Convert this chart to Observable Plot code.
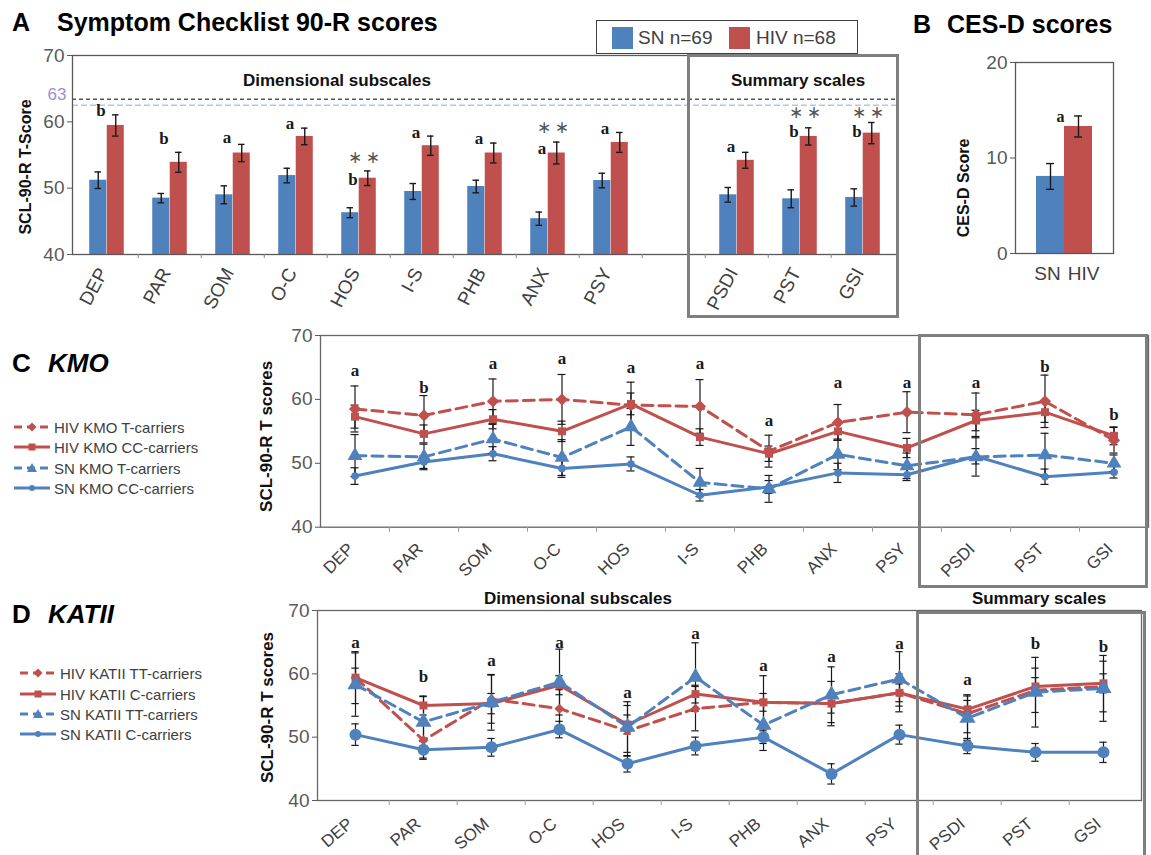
<!DOCTYPE html>
<html><head><meta charset="utf-8">
<script src="https://cdn.jsdelivr.net/npm/d3@7"></script>
<script src="https://cdn.jsdelivr.net/npm/@observablehq/plot@0.6"></script>
<style>
body{margin:0;background:#fff;}
#wrap{position:relative;width:1151px;height:855px;overflow:hidden;background:#fff;font-family:"Liberation Sans",Arial,sans-serif;}
.t{position:absolute;white-space:nowrap;line-height:1;}
.box{position:absolute;border:3px solid #7f7f7f;box-sizing:border-box;pointer-events:none;}
svg.plot{position:absolute;}
</style></head><body><div id="wrap"></div>
<script>
// ---------------- DATA ----------------
const scales = ["DEP","PAR","SOM","O-C","HOS","I-S","PHB","ANX","PSY","PSDI","PST","GSI"];

// Panel A: SCL-90-R bar chart
const yDomainA = [40, 70];
const yTicksA = [40, 50, 60, 70];
const snA     = [51.2, 48.5, 49.0, 51.9, 46.3, 49.5, 50.25, 45.4, 51.15, 49.0, 48.4, 48.6];
const snErrA  = [1.25, 0.7, 1.35, 1.1, 0.75, 1.2, 0.95, 1.0, 1.1, 1.1, 1.35, 1.3];
const hivA    = [59.45, 53.9, 55.3, 57.8, 51.5, 56.4, 55.3, 55.3, 56.9, 54.2, 57.8, 58.3];
const hivErrA = [1.6, 1.5, 1.3, 1.25, 1.1, 1.45, 1.5, 1.65, 1.5, 1.2, 1.3, 1.6];
const sigA    = ["b","b","a","a","b","a","a","a","a","a","b","b"];
const sigYA   = [61.7, 57.5, 57.7, 59.7, 51.3, 58.4, 57.5, 56.0, 59.0, 56.2, 58.5, 58.5];
const starCatsA = ["HOS","ANX","PST","GSI"];
const starYA    = [54.4, 59.0, 61.2, 61.3];
const refLinesA = [63.4, 62.5];
const refLabelA = "63";
const legendA   = ["SN n=69", "HIV n=68"];

// Panel B: CES-D
const groupsB  = ["SN","HIV"];
const valuesB  = [8.07, 13.3];
const errB     = [1.35, 1.1];
const sigB     = ["", "a"];
const sigYB    = [null, 14.3];
const yDomainB = [0, 20];
const yTicksB  = [0, 10, 20];

// Panels C and D shared
const yDomainCD = [40, 70];
const yTicksCD  = [40, 50, 60, 70];

// Panel C: KMO
const kmoNames    = ["HIV KMO T-carriers","HIV KMO CC-carriers","SN KMO T-carriers","SN KMO CC-carriers"];
const kmoHivT     = [58.5, 57.5, 59.7, 60.0, 59.1, 58.9, 51.9, 56.4, 58.0, 57.6, 59.7, 53.6];
const kmoHivTErr  = [3.6, 3.1, 3.5, 3.9, 3.6, 4.2, 2.5, 2.8, 3.2, 3.4, 4.1, 2.0];
const kmoHivCC    = [57.3, 54.6, 56.9, 55.0, 59.3, 54.1, 51.5, 55.0, 52.4, 56.7, 58.0, 54.3];
const kmoHivCCErr = [1.8, 1.4, 1.5, 1.6, 1.7, 1.3, 1.2, 1.4, 1.5, 1.6, 1.6, 1.4];
const kmoSnT      = [51.2, 51.0, 53.8, 50.9, 55.7, 47.0, 46.0, 51.4, 49.6, 51.0, 51.3, 50.0];
const kmoSnTErr   = [3.3, 2.0, 2.3, 2.8, 2.9, 2.2, 2.1, 2.4, 2.0, 3.0, 3.4, 1.3];
const kmoSnCC     = [48.0, 50.2, 51.5, 49.2, 49.9, 45.0, 46.3, 48.5, 48.2, 51.1, 47.9, 48.6];
const kmoSnCCErr  = [1.3, 1.0, 1.1, 1.4, 1.1, 0.9, 1.0, 1.5, 0.9, 1.2, 1.2, 0.9];
const sigC        = ["a","b","a","a","a","a","a","a","a","a","b","b"];
const sigYC       = [64.5, 61.9, 65.6, 66.35, 65.0, 65.6, 56.7, 62.7, 62.7, 62.7, 65.15, 57.6];

// Panel D: KATII
const katNames    = ["HIV KATII TT-carriers","HIV KATII C-carriers","SN KATII TT-carriers","SN KATII C-carriers"];
const katHivTT    = [59.4, 49.5, 56.0, 54.5, 51.0, 54.5, 55.5, 55.3, 57.0, 53.7, 57.4, 58.0];
const katHivTTErr = [4.1, 3.0, 3.8, 3.0, 4.0, 3.5, 4.2, 3.5, 3.0, 3.0, 3.5, 4.0];
const katHivC     = [59.4, 55.0, 55.3, 58.2, 52.0, 56.8, 55.5, 55.3, 57.0, 54.4, 58.0, 58.5];
const katHivCErr  = [1.5, 1.5, 1.6, 1.5, 1.5, 1.4, 1.4, 1.5, 1.4, 1.4, 1.4, 1.5];
const katSnTT     = [58.3, 52.4, 55.5, 58.7, 51.6, 59.5, 51.9, 56.7, 59.2, 53.0, 57.1, 57.7];
const katSnTTErr  = [5.0, 4.0, 4.4, 5.2, 4.0, 5.4, 4.0, 4.4, 4.3, 3.5, 5.5, 5.2];
const katSnC      = [50.4, 48.0, 48.4, 51.2, 45.8, 48.6, 50.0, 44.2, 50.4, 48.6, 47.6, 47.6];
const katSnCErr   = [1.7, 1.3, 1.4, 1.3, 1.3, 1.4, 1.0, 1.6, 1.5, 1.2, 1.4, 1.6];
const sigD        = ["a","b","a","a","a","a","a","a","a","a","b","b"];
const sigYD       = [65.0, 59.5, 62.1, 65.0, 57.1, 66.3, 61.3, 62.75, 64.85, 59.1, 64.85, 64.3];

// ---------------- STYLE ----------------
const BLUE = "#4f81bd", RED = "#c0504d";
const FONT = '"Liberation Sans", Arial, sans-serif';
const SERIF = '"Liberation Serif", "Times New Roman", serif';
const errStyle = {stroke: "#1a1a1a", strokeWidth: 1.4};
const wrap = document.getElementById("wrap");

function put(el, x, y) { el.style.left = x + "px"; el.style.top = y + "px"; wrap.appendChild(el); return el; }
function txt(s, x, y, css, center) {
  const d = document.createElement("div");
  d.className = "t"; d.textContent = s;
  Object.assign(d.style, css || {});
  if (center) d.style.transform = "translate(-50%,-50%)";
  return put(d, x, y);
}
function addPlot(svg, x, y) { svg.classList.add("plot"); return put(svg, x, y); }
function box(x, y, w, h) {
  const d = document.createElement("div"); d.className = "box";
  d.style.width = w + "px"; d.style.height = h + "px"; return put(d, x, y);
}
const baseStyle = {fontFamily: FONT, fontSize: "19px", color: "#595959", background: "transparent", overflow: "visible"};
const starText = "\u2217\u2009\u2217";

// ---------------- PANEL A ----------------
{
  const domainA = [...scales.slice(0, 9), " ", ...scales.slice(9)];
  const W = 900, H = 330, ML = 72, MR = 3, MT = 55, MB = 76;
  const bw = (W - ML - MR) / domainA.length;
  const barW = 17.5;
  const rows = scales.map((c, i) => ({cat: c, sn: snA[i], snE: snErrA[i], hiv: hivA[i], hivE: hivErrA[i], sig: sigA[i], sigY: sigYA[i]}));
  const stars = starCatsA.map((c, i) => ({cat: c, y: starYA[i]}));
  const capI = bw / 2 - 3.5;
  const svg = Plot.plot({
    width: W, height: H, marginLeft: ML, marginRight: MR, marginTop: MT, marginBottom: MB,
    style: baseStyle,
    x: {type: "band", domain: domainA, padding: 0, axis: null},
    y: {domain: yDomainA, axis: null},
    marks: [
      Plot.ruleY([refLinesA[1]], {stroke: "#b4c6e7", strokeWidth: 1.5, strokeDasharray: "6,3"}),
      Plot.ruleY([refLinesA[0]], {stroke: "#555", strokeWidth: 1.5, strokeDasharray: "4,3"}),
      Plot.barY(rows, {x: "cat", y1: yDomainA[0], y2: "sn", fill: BLUE, insetLeft: bw / 2 - barW, insetRight: bw / 2}),
      Plot.barY(rows, {x: "cat", y1: yDomainA[0], y2: "hiv", fill: RED, insetLeft: bw / 2, insetRight: bw / 2 - barW}),
      Plot.ruleX(rows, {x: "cat", y1: d => d.sn - d.snE, y2: d => d.sn + d.snE, dx: -barW / 2, ...errStyle}),
      Plot.tickY(rows, {x: "cat", y: d => d.sn - d.snE, dx: -barW / 2, insetLeft: capI, insetRight: capI, ...errStyle}),
      Plot.tickY(rows, {x: "cat", y: d => d.sn + d.snE, dx: -barW / 2, insetLeft: capI, insetRight: capI, ...errStyle}),
      Plot.ruleX(rows, {x: "cat", y1: d => d.hiv - d.hivE, y2: d => d.hiv + d.hivE, dx: barW / 2, ...errStyle}),
      Plot.tickY(rows, {x: "cat", y: d => d.hiv - d.hivE, dx: barW / 2, insetLeft: capI, insetRight: capI, ...errStyle}),
      Plot.tickY(rows, {x: "cat", y: d => d.hiv + d.hivE, dx: barW / 2, insetLeft: capI, insetRight: capI, ...errStyle}),
      Plot.frame({stroke: "#595959", strokeWidth: 1.3}),
      Plot.ruleX(domainA.slice(1), {x: d => d, dx: -bw / 2, insetTop: H - MT - MB, insetBottom: -4, stroke: "#888"}),
      Plot.axisY({ticks: yTicksA, tickSize: 5, tickPadding: 3, label: null}),
      Plot.text(scales, {x: d => d, frameAnchor: "bottom", text: d => d, rotate: -62, textAnchor: "end", lineAnchor: "middle", dx: -4, dy: 15, fontSize: 19, fill: "#404040"}),
      Plot.text(rows, {x: "cat", y: "sigY", text: "sig", dx: -6, fontFamily: SERIF, fontWeight: "bold", fontSize: 17, fill: "#1a1a1a"}),
      Plot.text(stars, {x: "cat", y: "y", text: () => starText, dx: 5, dy: -1, fontFamily: "DejaVu Sans", fontSize: 17, fill: "#555"}),
      Plot.text([refLabelA], {frameAnchor: "left", y: refLinesA[0], text: d => d, dx: -6, dy: -5, textAnchor: "end", fontSize: 17, fill: "#9d8fcf"}),
      Plot.text(["SCL-90-R T-Score"], {frameAnchor: "left", text: d => d, rotate: -90, textAnchor: "middle", lineAnchor: "middle", dx: -47, dy: 12, fontSize: 16, fontWeight: "bold", fill: "#111"})
    ]
  });
  addPlot(svg, 0, 0);
}

// ---------------- PANEL B ----------------
{
  const W = 251, H = 300, ML = 115, MR = 38, MT = 62, MB = 47;
  const rows = groupsB.map((g, i) => ({g, v: valuesB[i], e: errB[i], sig: sigB[i], sy: sigYB[i]}));
  const svg = Plot.plot({
    width: W, height: H, marginLeft: ML, marginRight: MR, marginTop: MT, marginBottom: MB,
    style: baseStyle,
    x: {type: "band", domain: groupsB, paddingInner: 0, paddingOuter: 0.75, axis: null},
    y: {domain: yDomainB, axis: null},
    marks: [
      Plot.barY(rows.filter(d => d.g === groupsB[0]), {x: "g", y: "v", fill: BLUE}),
      Plot.barY(rows.filter(d => d.g === groupsB[1]), {x: "g", y: "v", fill: RED}),
      Plot.ruleX(rows, {x: "g", y1: d => d.v - d.e, y2: d => d.v + d.e, ...errStyle}),
      Plot.tickY(rows, {x: "g", y: d => d.v - d.e, insetLeft: 10, insetRight: 10, ...errStyle}),
      Plot.tickY(rows, {x: "g", y: d => d.v + d.e, insetLeft: 10, insetRight: 10, ...errStyle}),
      Plot.frame({stroke: "#595959", strokeWidth: 1.3}),
      Plot.axisY({ticks: yTicksB, tickSize: 5, tickPadding: 3, label: null}),
      Plot.text(groupsB.slice(0, 1), {x: d => d, frameAnchor: "bottom", text: d => d, lineAnchor: "middle", dx: -3, dy: 20, fontSize: 19, fill: "#404040"}),
      Plot.text(groupsB.slice(1), {x: d => d, frameAnchor: "bottom", text: d => d, lineAnchor: "middle", dx: 5, dy: 20, fontSize: 19, fill: "#404040"}),
      Plot.text(rows.filter(d => d.sig), {x: "g", y: "sy", text: "sig", dx: -18, fontFamily: SERIF, fontWeight: "bold", fontSize: 16, fill: "#1a1a1a"}),
      Plot.text(["CES-D Score"], {frameAnchor: "left", text: d => d, rotate: -90, textAnchor: "middle", lineAnchor: "middle", dx: -52, dy: 30, fontSize: 16, fontWeight: "bold", fill: "#111"})
    ]
  });
  addPlot(svg, 900, 0);
}

// ---------------- PANELS C & D ----------------
function linePanel(o) {
  const bw = (o.W - o.ML - o.MR) / scales.length;
  const fh = o.H - o.MT - o.MB;
  const marks = [
    Plot.frame({stroke: "#666", strokeWidth: 1.3}),
    Plot.ruleX(scales.slice(1), {x: d => d, dx: -bw / 2, insetTop: fh, insetBottom: -5, stroke: "#999"})
  ];
  const all = o.series.map(s => ({s, rows: scales.map((c, i) => ({cat: c, v: s.values[i], e: s.errs[i]}))}));
  for (const {s, rows} of all)
    marks.push(Plot.line(rows, {x: "cat", y: "v", stroke: s.color, strokeWidth: 3, strokeDasharray: s.dash}));
  const capI = bw / 2 - 4;
  for (const {rows} of all) {
    marks.push(Plot.ruleX(rows, {x: "cat", y1: d => d.v - d.e, y2: d => d.v + d.e, stroke: "#1a1a1a", strokeWidth: 1.2}));
    marks.push(Plot.tickY(rows, {x: "cat", y: d => d.v - d.e, insetLeft: capI, insetRight: capI, stroke: "#1a1a1a", strokeWidth: 1.2}));
    marks.push(Plot.tickY(rows, {x: "cat", y: d => d.v + d.e, insetLeft: capI, insetRight: capI, stroke: "#1a1a1a", strokeWidth: 1.2}));
  }
  for (const {s, rows} of all)
    marks.push(Plot.dot(rows, {x: "cat", y: "v", symbol: s.symbol, r: s.r, fill: s.color, stroke: null}));
  const sigRows = scales.map((c, i) => ({cat: c, t: o.sig[i], y: o.sigY[i]}));
  marks.push(
    Plot.text(sigRows, {x: "cat", y: "y", text: "t", fontFamily: SERIF, fontWeight: "bold", fontSize: 17, fill: "#1a1a1a"}),
    Plot.axisY({ticks: yTicksCD, tickSize: 5, tickPadding: 3, label: null}),
    Plot.text(scales, {x: d => d, frameAnchor: "bottom", text: d => d, rotate: o.rot, textAnchor: "end", lineAnchor: "middle", dx: o.labelDx, dy: o.labelDy, fontSize: 17, fill: "#404040"}),
    Plot.text([o.title], {frameAnchor: "left", text: d => d, rotate: -90, textAnchor: "middle", lineAnchor: "middle", dx: o.titleDx, dy: o.titleDy, fontSize: 17, fontWeight: "bold", fill: "#111"})
  );
  return Plot.plot({
    width: o.W, height: o.H, marginLeft: o.ML, marginRight: o.MR, marginTop: o.MT, marginBottom: o.MB,
    style: baseStyle,
    x: {type: "band", domain: scales, padding: 0, axis: null},
    y: {domain: yDomainCD, axis: null},
    marks
  });
}

const seriesC = [
  {name: kmoNames[0], values: kmoHivT,  errs: kmoHivTErr,  color: RED,  dash: "11,6", symbol: "diamond2", r: 5.5},
  {name: kmoNames[1], values: kmoHivCC, errs: kmoHivCCErr, color: RED,  dash: null,   symbol: "square",   r: 4.5},
  {name: kmoNames[2], values: kmoSnT,   errs: kmoSnTErr,   color: BLUE, dash: "11,6", symbol: "triangle", r: 5.5},
  {name: kmoNames[3], values: kmoSnCC,  errs: kmoSnCCErr,  color: BLUE, dash: null,   symbol: "circle",   r: 3.8}
];
const seriesD = [
  {name: katNames[0], values: katHivTT, errs: katHivTTErr, color: RED,  dash: "11,6", symbol: "diamond2", r: 4.5},
  {name: katNames[1], values: katHivC,  errs: katHivCErr,  color: RED,  dash: null,   symbol: "square",   r: 4.5},
  {name: katNames[2], values: katSnTT,  errs: katSnTTErr,  color: BLUE, dash: "11,6", symbol: "triangle", r: 6},
  {name: katNames[3], values: katSnC,   errs: katSnCErr,   color: BLUE, dash: null,   symbol: "circle",   r: 6}
];

addPlot(linePanel({W: 911, H: 270, ML: 80, MR: 3, MT: 15, MB: 63.3, series: seriesC, sig: sigC, sigY: sigYC,
  rot: -45, labelDx: -4, labelDy: 19, title: "SCL-90-R T scores", titleDx: -54, titleDy: 5}), 240, 320);
addPlot(linePanel({W: 911, H: 275, ML: 77, MR: 10, MT: 30, MB: 55, series: seriesD, sig: sigD, sigY: sigYD,
  rot: -40, labelDx: -5, labelDy: 21, title: "SCL-90-R T scores", titleDx: -50, titleDy: 2}), 240, 580);

// ---------------- TEXT, LEGENDS, BOXES ----------------
const titleCss = {fontSize: "25px", fontWeight: "bold", color: "#000"};
txt("A", 12, 10, titleCss);
txt("Symptom Checklist 90-R scores", 57, 10, titleCss);
txt("B", 913, 12, titleCss);
txt("CES-D scores", 947, 12, titleCss);
txt("C", 12, 350, {...titleCss, fontSize: "26px"});
txt("KMO", 48, 350, {...titleCss, fontSize: "26px", fontStyle: "italic"});
txt("D", 12, 601, {...titleCss, fontSize: "26px"});
txt("KATII", 48, 601, {...titleCss, fontSize: "26px", fontStyle: "italic"});

const subCss = {fontSize: "17px", fontWeight: "bold", color: "#111"};
txt("Dimensional subscales", 337, 80, subCss, true);
txt("Summary scales", 798, 80, subCss, true);
txt("Dimensional subscales", 578, 598, subCss, true);
txt("Summary scales", 1039, 598, subCss, true);

// legend A
{
  const lb = document.createElement("div");
  Object.assign(lb.style, {position: "absolute", width: "262px", height: "34px", border: "1.5px solid #404040", boxSizing: "border-box", background: "#fff"});
  put(lb, 596, 20);
  const sw = (c, x) => { const d = document.createElement("div"); Object.assign(d.style, {position: "absolute", width: "21px", height: "22px", background: c}); put(d, x, 27); };
  sw(BLUE, 612); sw(RED, 729);
  txt(legendA[0], 638, 28, {fontSize: "19px", color: "#404040"});
  txt(legendA[1], 756, 28, {fontSize: "19px", color: "#404040"});
}

function legendLine(s, x, yc) {
  const c = s.color, cx = 18, cy = 8;
  let m = "";
  const r = 4.5;
  if (s.symbol === "diamond2") m = `<path d="M${cx},${cy - r} L${cx + r},${cy} L${cx},${cy + r} L${cx - r},${cy}Z" fill="${c}"/>`;
  else if (s.symbol === "square") m = `<rect x="${cx - 3.5}" y="${cy - 3.5}" width="7" height="7" fill="${c}"/>`;
  else if (s.symbol === "triangle") m = `<path d="M${cx},${cy - 5} L${cx + 5},${cy + 4} L${cx - 5},${cy + 4}Z" fill="${c}"/>`;
  else m = `<circle cx="${cx}" cy="${cy}" r="3" fill="${c}"/>`;
  const d = document.createElement("div");
  d.className = "t";
  d.innerHTML = `<svg width="36" height="16" style="vertical-align:middle"><line x1="0" y1="8" x2="36" y2="8" stroke="${c}" stroke-width="3" ${s.dash ? 'stroke-dasharray="8,5"' : ""}/>${m}</svg><span style="vertical-align:middle;margin-left:4px">${s.name}</span>`;
  Object.assign(d.style, {fontSize: "15px", color: "#404040"});
  put(d, x, yc - 8);
}
[426, 446, 467, 487].forEach((y, i) => legendLine(seriesC[i], 14, y));
[672, 693, 713, 733].forEach((y, i) => legendLine(seriesD[i], 20, y));

box(686.5, 53.5, 212, 264);
box(917.5, 334, 230.5, 254);
box(916, 610.5, 229.5, 260);
</script></body></html>
